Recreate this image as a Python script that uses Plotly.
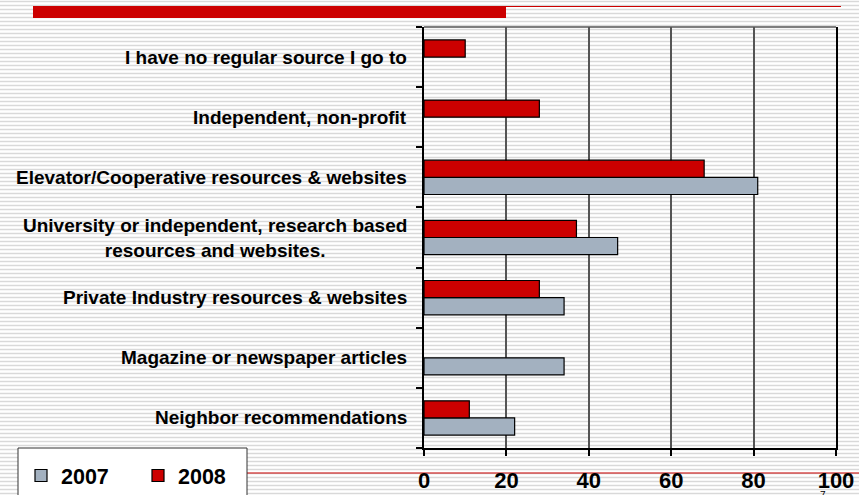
import plotly.graph_objects as go

# Data (top-to-bottom order as displayed)
categories = [
    "I have no regular source I go to",
    "Independent, non-profit",
    "Elevator/Cooperative resources & websites",
    "University or independent, research based<br>resources and websites.",
    "Private Industry resources & websites",
    "Magazine or newspaper articles",
    "Neighbor recommendations",
]
values_2007 = [None, None, 81, 47, 34, 34, 22]
values_2008 = [10, 28, 68, 37, 28, None, 11]
x_ticks = [0, 20, 40, 60, 80, 100]

GRAY = "#a3b1c0"
RED = "#cc0000"
FONT = "Arial, Liberation Sans, sans-serif"

W, H = 859, 495
L, R, T, B = 424, 836, 27, 448


def px_x(px):
    return (px - L) / (R - L)


def px_y(py):
    return (B - py) / (B - T)


fig = go.Figure()
fig.add_trace(go.Bar(
    y=categories, x=values_2007, name="2007", orientation="h",
    marker=dict(color=GRAY, line=dict(color="black", width=1.2)),
))
fig.add_trace(go.Bar(
    y=categories, x=values_2008, name="2008", orientation="h",
    marker=dict(color=RED, line=dict(color="black", width=1.2)),
))

shapes = []
# striped background
py = 1.5
while py < H + 4:
    shapes.append(dict(type="line", xref="paper", yref="paper",
                       x0=px_x(0), x1=px_x(W), y0=px_y(py), y1=px_y(py),
                       line=dict(color="#d9d9d9", width=1.5), layer="below"))
    py += 4
# top decoration
shapes.append(dict(type="rect", xref="paper", yref="paper",
                   x0=px_x(33), x1=px_x(506), y0=px_y(18), y1=px_y(6),
                   fillcolor=RED, line=dict(width=0), layer="below"))
shapes.append(dict(type="line", xref="paper", yref="paper",
                   x0=px_x(506), x1=px_x(841), y0=px_y(6.5), y1=px_y(6.5),
                   line=dict(color=RED, width=1), layer="below"))
# bottom red line
shapes.append(dict(type="line", xref="paper", yref="paper",
                   x0=px_x(33), x1=px_x(859), y0=px_y(473), y1=px_y(473),
                   line=dict(color=RED, width=1), layer="below"))
# legend box
shapes.append(dict(type="rect", xref="paper", yref="paper",
                   x0=px_x(18), x1=px_x(247), y0=px_y(448), y1=px_y(505),
                   fillcolor="white", line=dict(color="#333333", width=1), layer="below"))
# top plot border (gray)
shapes.append(dict(type="line", xref="paper", yref="paper",
                   x0=0, x1=1, y0=1, y1=1,
                   line=dict(color="#555555", width=1.5), layer="above"))

annotations = []
for c in categories:
    annotations.append(dict(
        x=px_x(409), xref="paper", y=c, yref="y", text=c,
        showarrow=False, xanchor="right", yanchor="middle", align="center",
        font=dict(family=FONT, size=19, color="black", weight="bold"),
    ))
annotations.append(dict(x=px_x(823), y=px_y(488), xref="paper", yref="paper",
                        text="7", showarrow=False, xanchor="center", yanchor="top",
                        font=dict(family=FONT, size=10, color="black")))

fig.update_layout(
    width=W, height=H,
    margin=dict(l=L, r=W - R, t=T, b=H - B, autoexpand=False),
    paper_bgcolor="white",
    plot_bgcolor="rgba(0,0,0,0)",
    barmode="group",
    bargap=0.43,
    bargroupgap=0,
    shapes=shapes,
    annotations=annotations,
    showlegend=True,
    legend=dict(
        orientation="h", x=px_x(21), y=px_y(455), xanchor="left", yanchor="top",
        bgcolor="rgba(0,0,0,0)", borderwidth=0,
        font=dict(family=FONT, size=21.5, color="black", weight="bold"),
        entrywidth=72, itemwidth=30, traceorder="normal",
    ),
    xaxis=dict(
        range=[0, 100], tickvals=x_ticks, ticktext=[str(v) for v in x_ticks],
        showgrid=True, gridcolor="#555555", gridwidth=1.5,
        showline=True, linecolor="black", linewidth=2, mirror=False,
        ticks="outside", ticklen=6, tickcolor="black", tickwidth=1.5,
        ticklabelstandoff=6,
        tickfont=dict(family=FONT, size=22, color="black", weight="bold"),
        zeroline=False, fixedrange=True,
    ),
    yaxis=dict(
        categoryorder="array", categoryarray=list(reversed(categories)),
        showticklabels=False, tickson="boundaries",
        ticks="outside", ticklen=6, tickcolor="black", tickwidth=1.5,
        showline=True, linecolor="black", linewidth=2, mirror=True,
        showgrid=False, fixedrange=True,
    ),
)

fig.write_html("out.html",
               config={"displayModeBar": False},
               post_script="document.body.style.margin='0';document.body.style.overflow='hidden';")
